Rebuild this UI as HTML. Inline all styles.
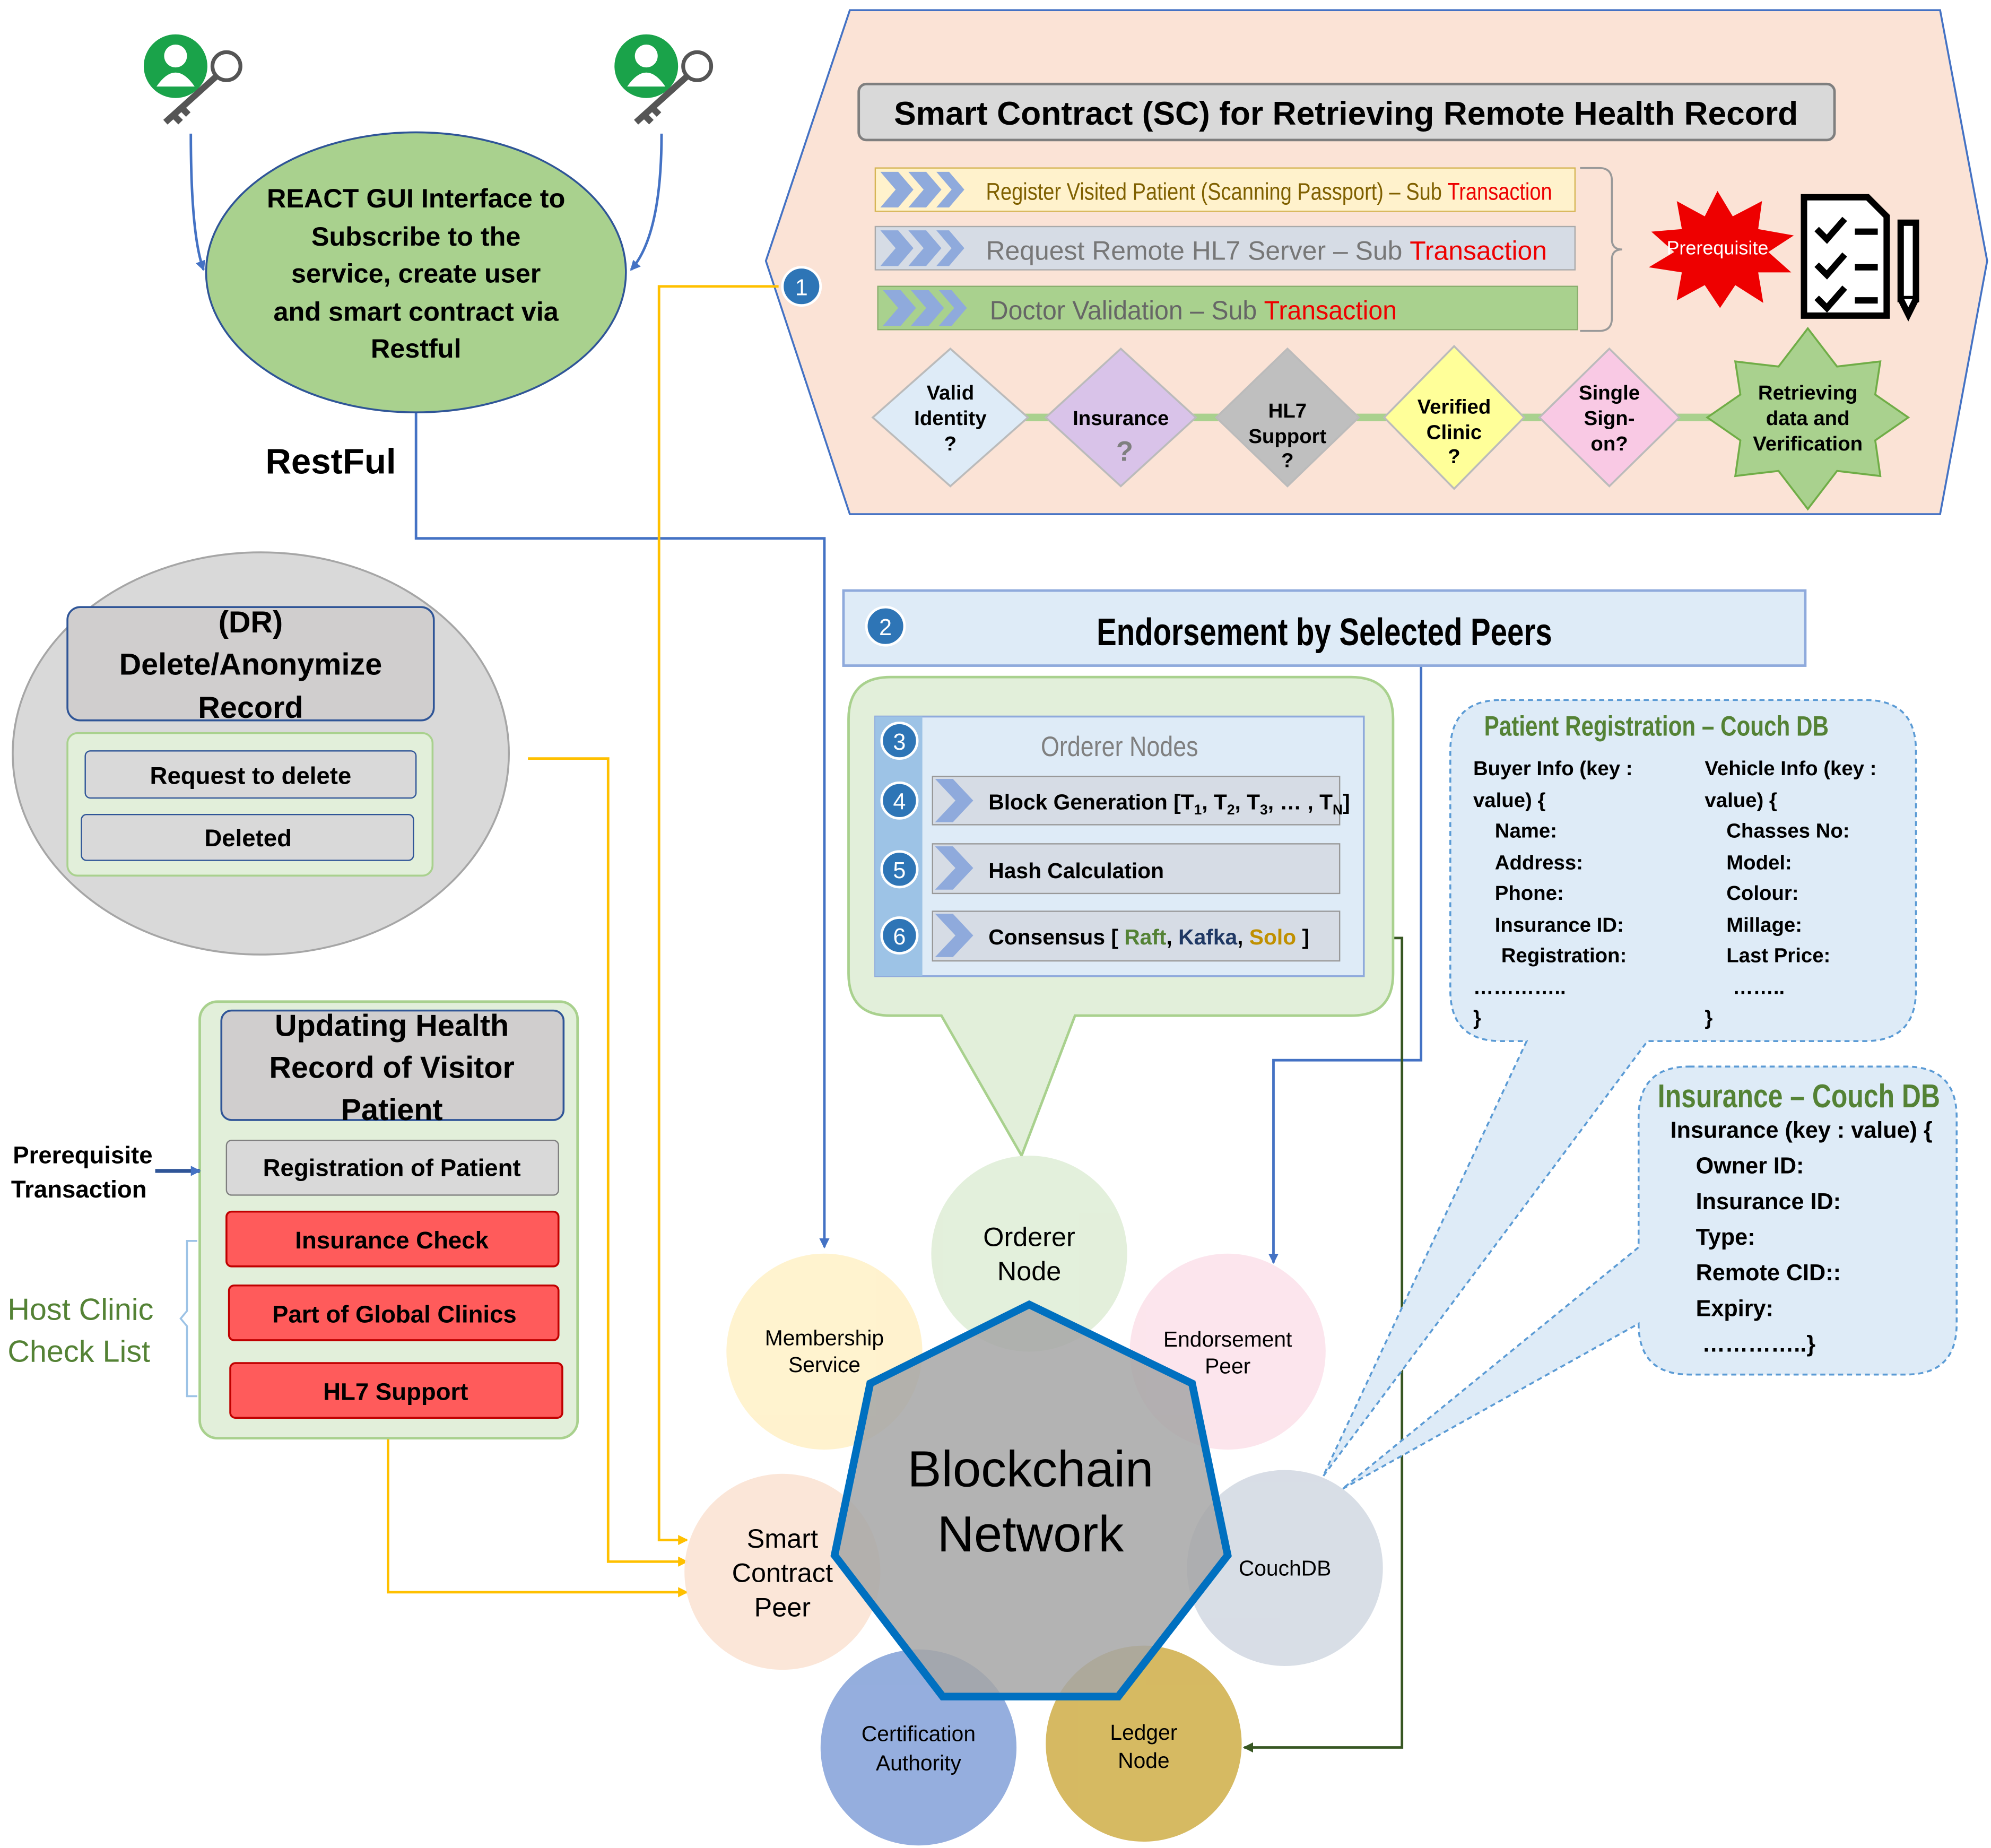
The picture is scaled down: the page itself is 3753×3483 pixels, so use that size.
<!DOCTYPE html>
<html><head><meta charset="utf-8"><style>
html,body{margin:0;padding:0;background:#fff}
svg{display:block}
text{font-family:"Liberation Sans",sans-serif}
</style></head><body>
<svg width="3753" height="3483" viewBox="0 0 1565 1452" preserveAspectRatio="none" xmlns="http://www.w3.org/2000/svg">
<defs>
<marker id="ab" markerWidth="8" markerHeight="8" refX="7" refY="4" orient="auto" markerUnits="userSpaceOnUse"><path d="M0,0 L8,4 L0,8 z" fill="#4472c4"/></marker>
<marker id="ay" markerWidth="8" markerHeight="8" refX="7" refY="4" orient="auto" markerUnits="userSpaceOnUse"><path d="M0,0 L8,4 L0,8 z" fill="#ffc000"/></marker>
<marker id="ag" markerWidth="8" markerHeight="8" refX="7" refY="4" orient="auto" markerUnits="userSpaceOnUse"><path d="M0,0 L8,4 L0,8 z" fill="#385723"/></marker>
<g id="chev"><path d="M0,0 h14 l12,14 l-12,14 h-14 l12,-14z" fill="#8faadc"/><path d="M22,0 h14 l12,14 l-12,14 h-14 l12,-14z" fill="#8faadc"/><path d="M44,0 h10 l12,14 l-12,14 h-10 l12,-14z" fill="#8faadc"/></g>
<g id="user"><circle cx="0" cy="0" r="26" fill="#1aa34a" stroke="#fff" stroke-width="2"/><circle cx="0" cy="-8" r="9" fill="#fff"/><path d="M-15,16 q15,-22 30,0z" fill="#fff"/><circle cx="40" cy="0" r="11" fill="#fff" stroke="#555" stroke-width="3"/><path d="M32,8 L-8,44 M-2,38 l6,6 M4,32 l6,6" stroke="#555" stroke-width="5" fill="none"/></g>
</defs>

<polygon points="668,8 1525,8 1562,205 1525,404 668,404 602,205" fill="#fbe3d6" stroke="#4472c4" stroke-width="1.5"/>
<rect x="675" y="66" width="767" height="44" rx="6" fill="#d9d9d9" stroke="#7f7f7f" stroke-width="2"/>
<text x="1058" y="98" font-size="26" font-weight="bold" text-anchor="middle">Smart Contract (SC) for Retrieving Remote Health Record</text>
<rect x="688" y="132" width="550" height="34" fill="#fff2cc" stroke="#d6b656"/>
<use href="#chev" x="692" y="135"/>
<text x="775" y="157" font-size="19" fill="#7f6000" textLength="445" lengthAdjust="spacingAndGlyphs">Register Visited Patient (Scanning Passport) – Sub <tspan fill="#e00">Transaction</tspan></text>
<rect x="688" y="178" width="550" height="34" fill="#d6dce5" stroke="#aaa"/>
<use href="#chev" x="692" y="181"/>
<text x="775" y="204" font-size="21" fill="#777" textLength="441" lengthAdjust="spacingAndGlyphs">Request Remote HL7 Server – Sub <tspan fill="#e00">Transaction</tspan></text>
<rect x="690" y="225" width="550" height="34" fill="#a9d18e" stroke="#8aae6e"/>
<use href="#chev" x="694" y="228"/>
<text x="778" y="251" font-size="21" fill="#666" textLength="320" lengthAdjust="spacingAndGlyphs">Doctor Validation  – Sub <tspan fill="#e00">Transaction</tspan></text>
<path d="M1242,132 h15 q10,0 10,10 v46 q0,8 8,8 q-8,0 -8,8 v46 q0,10 -10,10 h-15" fill="none" stroke="#999" stroke-width="1.5"/>
<polygon points="1350,150 1362,170 1385,158 1382,180 1410,185 1390,198 1408,214 1382,214 1386,238 1364,224 1352,242 1340,224 1318,236 1322,214 1296,210 1316,198 1298,182 1322,180 1318,158 1340,170" fill="#e00"/>
<text x="1350" y="200" font-size="15" fill="#fff" text-anchor="middle">Prerequisite</text>
<g stroke="#000" stroke-width="5" fill="#fff"><path d="M1418,155 h50 l15,15 v78 h-65z"/><path d="M1428,180 l8,8 l14,-16 M1428,208 l8,8 l14,-16 M1428,234 l8,8 l14,-16 M1458,182 h18 M1458,210 h18 M1458,236 h18" fill="none"/><rect x="1494" y="175" width="12" height="60"/><path d="M1494,235 l6,12 l6,-12" /></g>
<circle cx="630" cy="225" r="15" fill="#2e75b6" stroke="#fff" stroke-width="2"/><text x="630" y="232" font-size="18" fill="#fff" text-anchor="middle">1</text>
<line x1="760" y1="328" x2="1400" y2="328" stroke="#a9d18e" stroke-width="6"/>
<g stroke="#bbb" stroke-width="1.5" font-size="16" font-weight="bold" text-anchor="middle">
<polygon points="747,274 808,328 747,382 686,328" fill="#deebf7"/>
<polygon points="881,274 940,328 881,382 822,328" fill="#d9c3e9"/>
<polygon points="1012,274 1068,328 1012,382 956,328" fill="#bfbfbf"/>
<polygon points="1143,272 1198,328 1143,384 1088,328" fill="#ffff99"/>
<polygon points="1265,274 1320,328 1265,382 1210,328" fill="#f9c9e4"/>
<polygon points="1421,258 1444,288 1478,284 1474,310 1500,328 1474,346 1478,374 1444,370 1421,400 1398,370 1364,374 1368,346 1342,328 1368,310 1364,284 1398,288" fill="#a9d18e" stroke="#70ad47"/>
</g>
<g font-size="16" font-weight="bold" text-anchor="middle">
<text x="747" y="314">Valid</text><text x="747" y="334">Identity</text><text x="747" y="354">?</text>
<text x="881" y="334">Insurance</text><text x="884" y="362" font-size="22" fill="#7f7f7f">?</text>
<text x="1012" y="328">HL7</text><text x="1012" y="348">Support</text><text x="1012" y="367">?</text>
<text x="1143" y="325">Verified</text><text x="1143" y="345">Clinic</text><text x="1143" y="364">?</text>
<text x="1265" y="314">Single</text><text x="1265" y="334">Sign-</text><text x="1265" y="354">on?</text>
<text x="1421" y="314">Retrieving</text><text x="1421" y="334">data and</text><text x="1421" y="354">Verification</text>
</g>

<polyline points="327,324 327,423 648,423 648,980" fill="none" stroke="#4472c4" stroke-width="2" marker-end="url(#ab)"/>
<polyline points="612,225 518,225 518,1210 540,1210" fill="none" stroke="#ffc000" stroke-width="2" marker-end="url(#ay)"/>
<polyline points="415,596 478,596 478,1227 540,1227" fill="none" stroke="#ffc000" stroke-width="2" marker-end="url(#ay)"/>
<polyline points="305,1130 305,1251 540,1251" fill="none" stroke="#ffc000" stroke-width="2" marker-end="url(#ay)"/>
<polyline points="1117,523 1117,833 1001,833 1001,992" fill="none" stroke="#4472c4" stroke-width="2" marker-end="url(#ab)"/>
<polyline points="1053,737 1102,737 1102,1373 978,1373" fill="none" stroke="#385723" stroke-width="2" marker-end="url(#ag)"/>

<ellipse cx="327" cy="214" rx="165" ry="110" fill="#a9d18e" stroke="#2f5597" stroke-width="1.5"/>
<g font-size="21" font-weight="bold" text-anchor="middle"><text x="327" y="163">REACT GUI Interface to</text><text x="327" y="193">Subscribe to the</text><text x="327" y="222">service, create user</text><text x="327" y="252">and smart contract via</text><text x="327" y="281">Restful</text></g>
<use href="#user" x="138" y="52"/><use href="#user" x="508" y="52"/>
<path d="M150,105 q0,80 10,107" fill="none" stroke="#4472c4" stroke-width="2" marker-end="url(#ab)"/>
<path d="M520,105 q0,80 -24,107" fill="none" stroke="#4472c4" stroke-width="2" marker-end="url(#ab)"/>
<text x="260" y="372" font-size="28" font-weight="bold" text-anchor="middle">RestFul</text>

<rect x="663" y="464" width="756" height="59" fill="#deebf7" stroke="#8faadc" stroke-width="2"/>
<circle cx="696" cy="492" r="15" fill="#2e75b6" stroke="#fff" stroke-width="2"/><text x="696" y="499" font-size="18" fill="#fff" text-anchor="middle">2</text>
<text x="862" y="507" font-size="30" font-weight="bold" textLength="358" lengthAdjust="spacingAndGlyphs">Endorsement by Selected Peers</text>

<path d="M700,532 H1062 Q1095,532 1095,565 V765 Q1095,798 1062,798 H845 L803,908 L740,798 H700 Q667,798 667,765 V565 Q667,532 700,532Z" fill="#e2efda" stroke="#a9d18e" stroke-width="2"/>
<rect x="688" y="563" width="384" height="204" fill="#deebf7" stroke="#8faadc" stroke-width="1.5"/>
<rect x="688" y="563" width="37" height="204" fill="#9dc3e6"/>
<text x="880" y="594" font-size="22" fill="#7f7f7f" text-anchor="middle" transform="translate(880,0) scale(0.85,1) translate(-880,0)">Orderer Nodes</text>
<g fill="#d6dce5" stroke="#999"><rect x="733" y="610" width="320" height="38"/><rect x="733" y="663" width="320" height="39"/><rect x="733" y="716" width="320" height="39"/></g>
<g fill="#8faadc"><path d="M735,612 h14 l16,17 l-16,17 h-14 l16,-17z"/><path d="M735,665 h14 l16,17 l-16,17 h-14 l16,-17z"/><path d="M735,718 h14 l16,17 l-16,17 h-14 l16,-17z"/></g>
<g font-size="17" font-weight="bold"><text x="777" y="636">Block Generation [T<tspan font-size="11" dy="4">1</tspan><tspan dy="-4">, T</tspan><tspan font-size="11" dy="4">2</tspan><tspan dy="-4">, T</tspan><tspan font-size="11" dy="4">3</tspan><tspan dy="-4">, … , T</tspan><tspan font-size="11" dy="4">N</tspan><tspan dy="-4">]</tspan></text>
<text x="777" y="690">Hash Calculation</text>
<text x="777" y="742">Consensus [ <tspan fill="#548235">Raft</tspan>, <tspan fill="#1f3864">Kafka</tspan>, <tspan fill="#c09000">Solo</tspan> ]</text></g>
<g fill="#2e75b6" stroke="#fff" stroke-width="2"><circle cx="707" cy="582" r="14"/><circle cx="707" cy="629" r="14"/><circle cx="707" cy="683" r="14"/><circle cx="707" cy="735" r="14"/></g>
<g font-size="18" fill="#fff" text-anchor="middle"><text x="707" y="589">3</text><text x="707" y="636">4</text><text x="707" y="690">5</text><text x="707" y="742">6</text></g>

<path d="M1180,550 H1466 Q1506,550 1506,590 V778 Q1506,818 1466,818 H1295 L1040,1160 L1200,818 H1180 Q1140,818 1140,778 V590 Q1140,550 1180,550Z" fill="#deebf7" stroke="#5b9bd5" stroke-width="1.5" stroke-dasharray="4,3"/>
<text x="1302" y="578" font-size="22" font-weight="bold" fill="#548235" text-anchor="middle" transform="translate(1302,0) scale(0.8,1) translate(-1302,0)">Patient Registration – Couch DB</text>
<g font-size="16" font-weight="bold"><text x="1158" y="609">Buyer Info (key :</text><text x="1158" y="634">value) {</text><text x="1175" y="658">Name:</text><text x="1175" y="683">Address:</text><text x="1175" y="707">Phone:</text><text x="1175" y="732">Insurance ID:</text><text x="1180" y="756">Registration:</text><text x="1158" y="781">…………..</text><text x="1158" y="805">}</text>
<text x="1340" y="609">Vehicle Info (key :</text><text x="1340" y="634">value) {</text><text x="1357" y="658">Chasses No:</text><text x="1357" y="683">Model:</text><text x="1357" y="707">Colour:</text><text x="1357" y="732">Millage:</text><text x="1357" y="756">Last Price:</text><text x="1362" y="781">……..</text><text x="1340" y="805">}</text></g>

<path d="M1328,838 H1498 Q1538,838 1538,878 V1040 Q1538,1080 1498,1080 H1328 Q1288,1080 1288,1040 L1055,1170 L1288,980 V878 Q1288,838 1328,838Z" fill="#deebf7" stroke="#5b9bd5" stroke-width="1.5" stroke-dasharray="4,3"/>
<text x="1414" y="870" font-size="26" font-weight="bold" fill="#548235" text-anchor="middle" transform="translate(1414,0) scale(0.8,1) translate(-1414,0)">Insurance – Couch DB</text>
<g font-size="18" font-weight="bold"><text x="1313" y="894">Insurance (key : value) {</text><text x="1333" y="922">Owner ID:</text><text x="1333" y="950">Insurance ID:</text><text x="1333" y="978">Type:</text><text x="1333" y="1006">Remote CID::</text><text x="1333" y="1034">Expiry:</text><text x="1338" y="1062">…………..}</text></g>

<ellipse cx="205" cy="592" rx="195" ry="158" fill="#d9d9d9" stroke="#a6a6a6" stroke-width="1.5"/>
<rect x="53" y="477" width="288" height="89" rx="10" fill="#d0cece" stroke="#2f5597" stroke-width="1.5"/>
<g font-size="24" font-weight="bold" text-anchor="middle"><text x="197" y="497">(DR)</text><text x="197" y="530">Delete/Anonymize</text><text x="197" y="564">Record</text></g>
<rect x="53" y="576" width="287" height="112" rx="8" fill="#e2efda" stroke="#a9d18e" stroke-width="1.5"/>
<rect x="67" y="590" width="260" height="37" rx="4" fill="#d9d9d9" stroke="#2f5597"/>
<rect x="64" y="640" width="261" height="36" rx="4" fill="#d9d9d9" stroke="#2f5597"/>
<g font-size="19" font-weight="bold" text-anchor="middle"><text x="197" y="616">Request to delete</text><text x="195" y="665">Deleted</text></g>

<rect x="157" y="787" width="297" height="343" rx="14" fill="#e2efda" stroke="#a9d18e" stroke-width="2"/>
<rect x="174" y="794" width="269" height="86" rx="8" fill="#d0cece" stroke="#2f5597" stroke-width="1.5"/>
<g font-size="24" font-weight="bold" text-anchor="middle"><text x="308" y="814">Updating Health</text><text x="308" y="847">Record of Visitor</text><text x="308" y="880">Patient</text></g>
<rect x="178" y="896" width="261" height="43" rx="4" fill="#d9d9d9" stroke="#7f7f7f"/>
<g fill="#ff5b5b" stroke="#c00000" stroke-width="1.5"><rect x="178" y="952" width="261" height="43" rx="4"/><rect x="180" y="1010" width="259" height="43" rx="4"/><rect x="181" y="1071" width="261" height="43" rx="4"/></g>
<g font-size="19" font-weight="bold" text-anchor="middle"><text x="308" y="924">Registration of Patient</text><text x="308" y="981">Insurance Check</text><text x="310" y="1039">Part of Global Clinics</text><text x="311" y="1100">HL7 Support</text></g>
<g font-size="19" font-weight="bold" text-anchor="middle"><text x="65" y="914">Prerequisite</text><text x="62" y="941">Transaction</text></g>
<line x1="122" y1="920" x2="157" y2="920" stroke="#2f5597" stroke-width="3" marker-end="url(#ab)"/>
<g font-size="24" fill="#548235"><text x="6" y="1037">Host Clinic</text><text x="6" y="1070">Check List</text></g>
<path d="M155,975 h-8 v55 l-5,6 l5,6 v55 h8" fill="none" stroke="#9dc3e6" stroke-width="1.5"/>

<g opacity="0.95">
<circle cx="809" cy="985" r="77" fill="#e2efda"/>
<circle cx="648" cy="1062" r="77" fill="#fff2cc"/>
<circle cx="965" cy="1062" r="77" fill="#fce4ec"/>
<circle cx="615" cy="1235" r="77" fill="#fbe5d6"/>
<circle cx="1010" cy="1232" r="77" fill="#d6dce5"/>
<circle cx="722" cy="1373" r="77" fill="#8faadc"/>
<circle cx="899" cy="1370" r="77" fill="#d4b65a"/>
</g>
<polygon points="809,1025 937,1087 965,1222 879,1333 741,1333 656,1222 684,1087" fill="#a6a6a6" fill-opacity="0.85" stroke="#0070c0" stroke-width="6"/>
<g font-size="40" text-anchor="middle"><text x="810" y="1168">Blockchain</text><text x="810" y="1219">Network</text></g>
<g font-size="21" text-anchor="middle"><text x="809" y="979">Orderer</text><text x="809" y="1006">Node</text><text x="615" y="1216">Smart</text><text x="615" y="1243">Contract</text><text x="615" y="1270">Peer</text></g>
<g font-size="17" text-anchor="middle"><text x="648" y="1057">Membership</text><text x="648" y="1078">Service</text><text x="965" y="1058">Endorsement</text><text x="965" y="1079">Peer</text><text x="1010" y="1238">CouchDB</text><text x="722" y="1368">Certification</text><text x="722" y="1391">Authority</text><text x="899" y="1367">Ledger</text><text x="899" y="1389">Node</text></g>
</svg>
</body></html>
